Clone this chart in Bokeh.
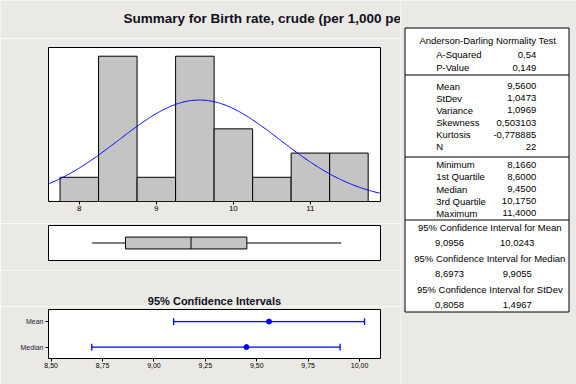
import numpy as np
from bokeh.plotting import figure
from bokeh.models import Range1d, FixedTicker, CustomJSTickFormatter
from bokeh.layouts import column, row
from bokeh.embed import file_html
from bokeh.resources import INLINE
from bokeh.core.properties import value

# ---------------- data ----------------
title_text = "Summary for Birth rate, crude (per 1,000 pe"
ci_title = "95% Confidence Intervals"

bin_start = 7.75
bin_width = 0.5
bin_counts = [1, 6, 1, 6, 3, 1, 2, 2]
hist_ticks = [8, 9, 10, 11]

n_obs = 22
mean_val = 9.56
stdev_val = 1.0473
minimum = 8.166
q1 = 8.6
median = 9.45
q3 = 10.175
maximum = 11.4

ci_labels = ["Mean", "Median"]
ci_centers = [9.56, 9.45]
ci_lower = [9.0956, 8.6973]
ci_upper = [10.0243, 9.9055]
ci_ticks = [8.5, 8.75, 9.0, 9.25, 9.5, 9.75, 10.0]

ad_header = "Anderson-Darling Normality Test"
ad_labels = ["A-Squared", "P-Value"]
ad_values = ["0,54", "0,149"]
moment_labels = ["Mean", "StDev", "Variance", "Skewness", "Kurtosis", "N"]
moment_values = ["9,5600", "1,0473", "1,0969", "0,503103", "-0,778885", "22"]
quant_labels = ["Minimum", "1st Quartile", "Median", "3rd Quartile", "Maximum"]
quant_values = ["8,1660", "8,6000", "9,4500", "10,1750", "11,4000"]
ci_headers = ["95% Confidence Interval for Mean",
              "95% Confidence Interval for Median",
              "95% Confidence Interval for StDev"]
ci_table_low = ["9,0956", "8,6973", "0,8058"]
ci_table_high = ["10,0243", "9,9055", "1,4967"]

# ---------------- style ----------------
BG = "#ebe9e5"
BAR = "#c4c4c4"
BLUE = "#0000ff"
FONT = "Liberation Sans"
TABLE_FS = "9.5px"


def make_fig(w, h, xr, yr, top, bottom, left, right, xaxis=None, yaxis=None):
    p = figure(width=w, height=h, x_range=xr, y_range=yr,
               output_backend="svg", toolbar_location=None,
               min_border_top=top, min_border_bottom=bottom,
               min_border_left=left, min_border_right=right,
               x_axis_location=xaxis, y_axis_location=yaxis)
    p.background_fill_color = "white"
    p.border_fill_color = BG
    p.outline_line_color = "black"
    p.outline_line_width = 1
    p.grid.visible = False
    return p


def plain_fig(w, h):
    p = figure(width=w, height=h, x_range=Range1d(0, w), y_range=Range1d(h, 0),
               output_backend="svg", toolbar_location=None,
               min_border=0, x_axis_location=None, y_axis_location=None,
               frame_align=False)
    p.background_fill_color = BG
    p.border_fill_color = BG
    p.outline_line_color = None
    p.grid.visible = False
    return p


def style_axis(ax, fs="8px"):
    ax.axis_line_color = None
    ax.major_tick_in = 0
    ax.major_tick_out = 3
    ax.minor_tick_line_color = None
    ax.major_label_standoff = 1
    ax.major_label_text_font = FONT
    ax.major_label_text_font_size = fs
    ax.major_label_text_color = "#000000"


LEFT_W = 400

# ---------------- title strip ----------------
pt = plain_fig(LEFT_W, 38)
pt.text(x=[123], y=[18], text=[title_text], text_font=value(FONT), text_font_style="bold",
        text_font_size="13.5px", text_color="#101020", text_align="left", text_baseline="middle")

# ---------------- histogram ----------------
hist_xr = Range1d(7.6, 11.91)
pa = make_fig(LEFT_W, 185, hist_xr, Range1d(0, 6.36), 9, 22, 48, 20, xaxis="below")
style_axis(pa.xaxis[0])
pa.xaxis.ticker = FixedTicker(ticks=hist_ticks)

lefts = [bin_start + i * bin_width for i in range(len(bin_counts))]
rights = [l + bin_width for l in lefts]
pa.quad(left=lefts, right=rights, bottom=0, top=bin_counts,
        fill_color=BAR, line_color="black", line_width=1)

xs = np.linspace(7.6, 11.91, 300)
ys = n_obs * bin_width * np.exp(-0.5 * ((xs - mean_val) / stdev_val) ** 2) / (stdev_val * np.sqrt(2 * np.pi))
pa.line(xs, ys, line_color=BLUE, line_width=1)

# ---------------- boxplot ----------------
pb = make_fig(LEFT_W, 47, hist_xr, Range1d(0, 1), 2, 10, 48, 20)
pb.segment(x0=[minimum, q3], y0=[0.5, 0.5], x1=[q1, maximum], y1=[0.5, 0.5],
           line_color="black", line_width=1)
pb.quad(left=[q1], right=[q3], bottom=[0.33], top=[0.67],
        fill_color=BAR, line_color="black", line_width=1)
pb.segment(x0=[median], y0=[0.33], x1=[median], y1=[0.67], line_color="black", line_width=1)

# ---------------- CI title strip ----------------
ps = plain_fig(LEFT_W, 36)
ps.text(x=[214], y=[30], text=[ci_title], text_font=value(FONT), text_font_style="bold",
        text_font_size="11px", text_color="#101020", text_align="center", text_baseline="middle")

# ---------------- confidence intervals ----------------
ci_y = [len(ci_labels) - i for i in range(len(ci_labels))]
pc = make_fig(LEFT_W, 78, Range1d(8.487, 10.102), Range1d(0.553, 2.474), 3, 26, 48, 20,
              xaxis="below", yaxis="left")
style_axis(pc.xaxis[0], "7px")
style_axis(pc.yaxis[0], "7px")
pc.yaxis.major_label_standoff = 2
pc.yaxis.major_label_text_color = "#1a1a40"
pc.xaxis.ticker = FixedTicker(ticks=ci_ticks)
pc.xaxis.formatter = CustomJSTickFormatter(code="return tick.toFixed(2).replace('.', ',');")
pc.yaxis.ticker = FixedTicker(ticks=ci_y)
pc.yaxis.formatter = CustomJSTickFormatter(args=dict(ys=ci_y, labels=ci_labels),
                                           code="const i = ys.indexOf(tick); return i >= 0 ? labels[i] : '';")

cap = 0.13
pc.segment(x0=ci_lower, y0=ci_y, x1=ci_upper, y1=ci_y, line_color=BLUE, line_width=1.3)
pc.segment(x0=ci_lower, y0=[y - cap for y in ci_y], x1=ci_lower, y1=[y + cap for y in ci_y],
           line_color=BLUE, line_width=1.3)
pc.segment(x0=ci_upper, y0=[y - cap for y in ci_y], x1=ci_upper, y1=[y + cap for y in ci_y],
           line_color=BLUE, line_width=1.3)
pc.scatter(x=ci_centers, y=ci_y, marker="circle", size=5, fill_color=BLUE, line_color=BLUE)

# ---------------- table ----------------
pd_ = plain_fig(176, 384)
pd_.quad(left=[4.5], right=[168.5], top=[27.5], bottom=[311.5], fill_color="white",
         line_color="black", line_width=1)
pd_.segment(x0=[4.5] * 3, x1=[168.5] * 3, y0=[74.5, 156.5, 219.5], y1=[74.5, 156.5, 219.5],
            line_color="black", line_width=1)

LX, VX, CX = 35.7, 135.7, 87.3
txt = dict(text_font=value(FONT), text_font_size=TABLE_FS, text_color="black",
           text_baseline="middle")

pd_.text(x=[CX], y=[40], text=[ad_header], text_align="center", **txt)
ad_y = [54.3 + 13 * i for i in range(len(ad_labels))]
pd_.text(x=[LX] * len(ad_labels), y=ad_y, text=ad_labels, text_align="left", **txt)
pd_.text(x=[VX] * len(ad_values), y=ad_y, text=ad_values, text_align="right", **txt)

m_y = [85.7 + 12.12 * i for i in range(len(moment_labels))]
pd_.text(x=[LX] * len(m_y), y=m_y, text=moment_labels, text_align="left", **txt)
pd_.text(x=[VX] * len(m_y), y=m_y, text=moment_values, text_align="right", **txt)

q_y = [164.3 + 12.1 * i for i in range(len(quant_labels))]
pd_.text(x=[LX] * len(q_y), y=q_y, text=quant_labels, text_align="left", **txt)
pd_.text(x=[VX] * len(q_y), y=q_y, text=quant_values, text_align="right", **txt)

h_y = [227.3 + 30.85 * i for i in range(len(ci_headers))]
v_y = [y + 15.3 for y in h_y]
pd_.text(x=[89.3] * len(h_y), y=h_y, text=ci_headers, text_align="center", **txt)
pd_.text(x=[49] * len(v_y), y=v_y, text=ci_table_low, text_align="center", **txt)
pd_.text(x=[116.7] * len(v_y), y=v_y, text=ci_table_high, text_align="center", **txt)

layout = row(column(pt, pa, pb, ps, pc), pd_)
open("out.html", "w").write(file_html(layout, INLINE))
